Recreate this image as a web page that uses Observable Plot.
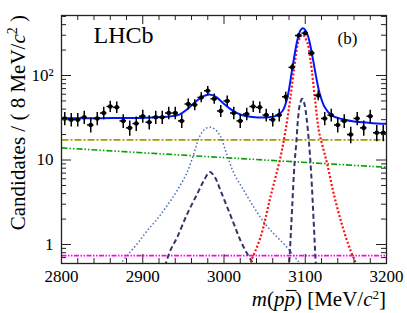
<!DOCTYPE html>
<html><head><meta charset="utf-8">
<script src="https://cdn.jsdelivr.net/npm/d3@7"></script>
<script src="https://cdn.jsdelivr.net/npm/@observablehq/plot@0.6"></script>
<style>body{margin:0;background:#fff}svg{display:block}
svg, svg text {font-family: "Liberation Serif", "DejaVu Serif", "Times New Roman", Times, serif !important;}
</style>
</head><body><div id="chart"></div>
<script>
// ---- data ----
const massBins = [2804,2812,2820,2828,2836,2844,2852,2860,2868,2876,2884,2892,2900,2908,2916,2924,2932,2940,2948,2956,2964,2972,2980,2988,2996,3004,3012,3020,3028,3036,3044,3052,3060,3068,3076,3084,3092,3100,3108,3116,3124,3132,3140,3148,3156,3164,3172,3180,3188,3196];
const counts = [31,30,30,32,26,31,36,43,42,29,24,27,33,28,32,32,36,36,29,46,45,55,66,53,38,50,36,29,35,43,42,34,30,34,56,125,297,317,184,58,31,34,26,29,20,31,24,33,21,21];
const binHalfWidth = 4;

const totalFit = [[2800,31.3],[2850,31.3],[2900,31.5],[2930,32.5],[2945,34.5],[2955,40],[2965,49],[2975,57],[2982,59.6],[2990,56],[2998,48],[3008,40],[3020,34.5],[3035,32.3],[3055,32],[3065,33.5],[3072,38],[3078,55],[3084,120],[3090,255],[3094,340],[3097,363],[3100,345],[3104,280],[3109,165],[3114,90],[3118,60],[3124,42],[3132,34],[3145,30.5],[3160,28.5],[3180,27.5],[3200,26.8]];
const jpsiSignal = [[3030,0.5],[3033,0.62],[3045,1.22],[3057,3.6],[3069.5,10.8],[3075.7,22.3],[3081.8,55],[3087,137],[3092,260],[3096.5,305],[3102.4,248],[3106.5,150],[3111.8,55],[3116.7,22.3],[3121,15],[3127,9],[3135,4],[3145.5,1.68],[3155.7,0.85],[3161.8,0.62],[3165,0.5]];
const jpsiNarrow = [[3079.5,0.5],[3080.6,0.68],[3081.8,1.11],[3083.9,2.77],[3086.8,9],[3089,16],[3091,30],[3093.5,46],[3096.2,53],[3099,46],[3101.5,32],[3104.4,17],[3107.3,6.9],[3110.5,1.76],[3112.6,0.68],[3113.5,0.5]];
const etacNarrow = [[2925,0.45],[2928,0.58],[2934,0.85],[2942.4,1.22],[2954.7,2.3],[2967,3.97],[2975.2,5.7],[2982.6,7.2],[2989,6.2],[2995.7,4.36],[3003.9,2.77],[3012.1,1.76],[3020.3,1.11],[3028.5,0.78],[3034.7,0.62],[3037,0.55]];
const etacWide = [[2866,0.5],[2870.6,0.56],[2880.8,0.74],[2893.2,1.02],[2905.5,1.46],[2917.8,2.0],[2930.1,2.9],[2942.4,4.36],[2954.7,7.2],[2962.8,11.8],[2970,19],[2976,23],[2982.6,24.5],[2989,23],[2995.7,19],[3003,12],[3012.1,7.0],[3024.4,4.36],[3036.7,2.77],[3049,1.84],[3061.3,1.34],[3073.6,1.02],[3083.9,0.78],[3092,0.62],[3096,0.55]];
const flatBkg = [[2800,17.3],[3200,17.3]];
const expBkg = [[2800,13.9],[3200,8.2]];
const constBkg = [[2800,0.74],[3200,0.74]];

const xTickLabels = [2800,2900,3000,3100,3200];
const xMinorTicks = [2820,2840,2860,2880,2920,2940,2960,2980,3020,3040,3060,3080,3120,3140,3160,3180];
const yTickLabels = [1,10,100];
const yMinorTicks = [0.7,0.8,0.9,2,3,4,5,6,7,8,9,20,30,40,50,60,70,80,90,200,300,400,500];

// ---- chart ----
const W = 407, H = 313, mL = 61, mR = 21, mT = 15, mB = 50;
const fw = W - mL - mR, fh = H - mT - mB;
const data = massBins.map((m, i) => ({m, n: counts[i]}));
const axisCol = "#222";

const curve = (arr, o) => Plot.line(arr, {x: d => d[0], y: d => d[1], curve: "catmull-rom", clip: true, strokeLinecap: "butt", strokeLinejoin: "round", ...o});

const svg = Plot.plot({
  width: W, height: H,
  marginLeft: mL, marginRight: mR, marginTop: mT, marginBottom: mB,
  style: {fontSize: "17px", background: "white", color: "black"},
  x: {type: "linear", domain: [2800, 3200]},
  y: {type: "log", domain: [0.596, 513]},
  marks: [
    curve(constBkg, {stroke: "#ff00ff", strokeWidth: 1.8, strokeDasharray: "5,1.5,1.5,1.5,1.5,1.5"}),
    curve(flatBkg, {stroke: "#a39c00", strokeWidth: 1.6, strokeDasharray: "7,2,2,2"}),
    curve(expBkg, {stroke: "#00a000", strokeWidth: 1.6, strokeDasharray: "6,2,1.5,2,1.5,2"}),
    curve(etacWide, {stroke: "#4a6db5", strokeWidth: 1.5, strokeDasharray: "1.5,2.2"}),
    curve(etacNarrow, {stroke: "#34346a", strokeWidth: 2, strokeDasharray: "5,3"}),
    curve(jpsiNarrow, {stroke: "#34346a", strokeWidth: 2, strokeDasharray: "5,3"}),
    curve(jpsiSignal, {stroke: "#ff1010", strokeWidth: 2.2, strokeDasharray: "2,2"}),
    curve(totalFit, {stroke: "#0018ff", strokeWidth: 2}),
    Plot.ruleX(data, {x: "m", y1: d => d.n - Math.sqrt(d.n), y2: d => d.n + Math.sqrt(d.n), stroke: "black", strokeWidth: 1.5}),
    Plot.ruleY(data, {y: "n", x1: d => d.m - binHalfWidth, x2: d => d.m + binHalfWidth, stroke: "black", strokeWidth: 1.5}),
    Plot.dot(data, {x: "m", y: "n", r: 2.3, fill: "black"}),
    // inward ticks on all four sides
    Plot.ruleX(xTickLabels, {insetTop: fh - 9, stroke: axisCol}),
    Plot.ruleX(xTickLabels, {insetBottom: fh - 9, stroke: axisCol}),
    Plot.ruleX(xMinorTicks, {insetTop: fh - 5, stroke: axisCol}),
    Plot.ruleX(xMinorTicks, {insetBottom: fh - 5, stroke: axisCol}),
    Plot.ruleY(yTickLabels, {insetRight: fw - 10, stroke: axisCol}),
    Plot.ruleY(yTickLabels, {insetLeft: fw - 10, stroke: axisCol}),
    Plot.ruleY(yMinorTicks, {insetRight: fw - 5, stroke: axisCol}),
    Plot.ruleY(yMinorTicks, {insetLeft: fw - 5, stroke: axisCol}),
    Plot.frame({stroke: axisCol, strokeWidth: 1.3}),
    Plot.axisX({ticks: xTickLabels, tickSize: 0, tickPadding: 6, tickFormat: d => String(d), label: null, fontSize: 17}),
    Plot.axisY({ticks: yTickLabels, tickSize: 0, tickPadding: 8, tickFormat: d => d === 100 ? "10\u00B2" : String(d), label: null, fontSize: 17}),
    Plot.text(["LHCb"], {frameAnchor: "top-left", dx: 32, dy: 20, text: d => d, fontSize: 24, textAnchor: "start", lineAnchor: "middle"}),
    Plot.text(["(b)"], {frameAnchor: "top-right", dx: -49, dy: 23, text: d => d, fontSize: 17, textAnchor: "start", lineAnchor: "middle"})
  ]
});

document.getElementById("chart").appendChild(svg);
const s = d3.select(svg);
// y-axis title
const yt = s.append("text")
  .attr("transform", `translate(25,${mT}) rotate(-90)`)
  .attr("text-anchor", "end")
  .attr("font-size", 21).attr("fill", "black");
yt.append("tspan").text("Candidates / ( 8 MeV/");
yt.append("tspan").attr("font-style", "italic").text("c");
yt.append("tspan").attr("font-size", 14).attr("dy", -8).text("2");
yt.append("tspan").attr("dy", 8).text(" )");
// x-axis title
const xBase = 306;
const xt = s.append("text")
  .attr("x", mL + fw).attr("y", xBase)
  .attr("text-anchor", "end")
  .attr("font-size", 21).attr("fill", "black");
xt.append("tspan").attr("font-style", "italic").text("m");
xt.append("tspan").text("(");
xt.append("tspan").attr("font-style", "italic").text("p");
xt.append("tspan").attr("font-style", "italic").text("p");
xt.append("tspan").text(") [MeV/");
xt.append("tspan").attr("font-style", "italic").text("c");
xt.append("tspan").attr("font-size", 13).attr("dy", -7).text("2");
xt.append("tspan").attr("dy", 7).text("]");
// overline over the anti-proton p
const xtn = xt.node();
const idx = "m(p".length;
const st = xtn.getStartPositionOfChar(idx);
const en = xtn.getEndPositionOfChar(idx);
s.append("line")
  .attr("x1", st.x + 1.5).attr("x2", en.x + 1.5)
  .attr("y1", xBase - 15.5).attr("y2", xBase - 15.5)
  .attr("stroke", "black").attr("stroke-width", 1.1);
</script>
</body></html>
